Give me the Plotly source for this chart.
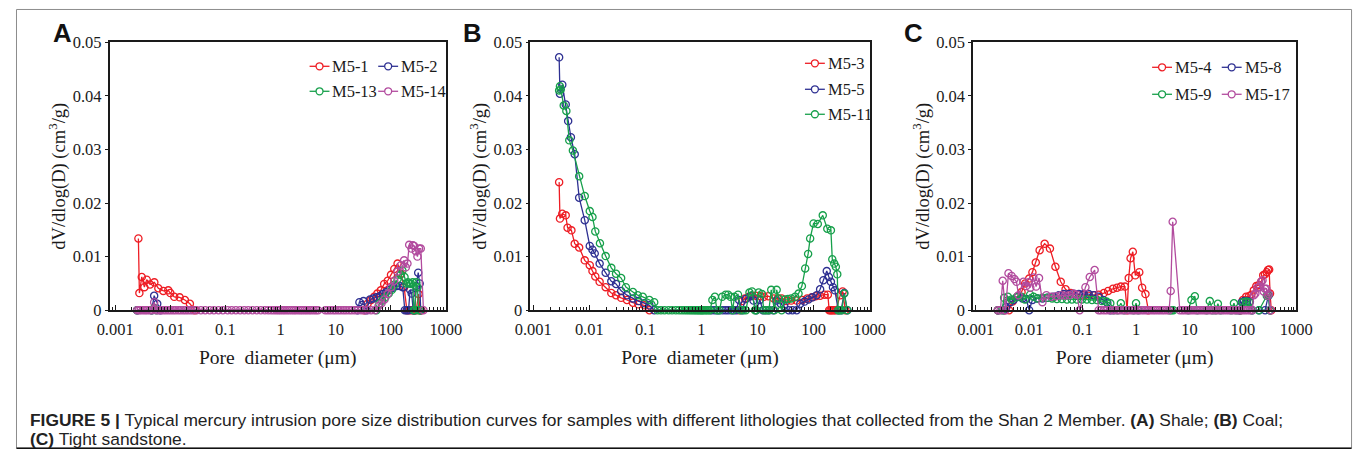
import plotly.graph_objects as go

# ---------------- data (pore diameter in µm, dV/dlog(D) in cm3/g) ----------------
# Panel A: shale
A_M5_1 = [(0.00264, 0.0134), (0.00275, 0.0032), (0.00304, 0.0062), (0.00339, 0.0043), (0.00374, 0.0057),
          (0.0043, 0.0048), (0.00514, 0.0052), (0.00607, 0.0041), (0.00747, 0.0036), (0.0092, 0.0037),
          (0.0100, 0.0032), (0.0118, 0.0025), (0.0148, 0.0024), (0.0184, 0.0019), (0.0227, 0.0012),
          (0.028, 0), (33, 0), (38, 0.0012), (44, 0.0019), (50, 0.0025), (57, 0.0031), (66, 0.0037),
          (76, 0.0049), (88, 0.0055), (101, 0.0066), (116, 0.0077), (133, 0.0087), (153, 0.0068),
          (175, 0.0043), (196, 0), (216, 0), (238, 0), (266, 0), (290, 0), (320, 0.0030), (340, 0), (360, 0)]
A_M5_2 = [(0.0025, 0), (0.0046, 0), (0.0051, 0.0027), (0.0058, 0.0012), (0.0066, 0), (25, 0), (27, 0.0015),
          (32, 0.0017), (36, 0), (42, 0.0020), (48, 0.0022), (55, 0.0024), (63, 0.0026), (72, 0.0030),
          (83, 0.0034), (95, 0.0038), (110, 0.0042), (127, 0.0045), (146, 0.0045), (165, 0.0043),
          (180, 0), (195, 0), (210, 0), (225, 0.0038), (240, 0.0031), (255, 0), (270, 0), (290, 0.0045),
          (315, 0.0070), (335, 0.0050), (350, 0)]
A_M5_13 = [(0.0025, 0), (0.0046, 0), (0.0051, 0.0004), (0.0056, 0), (55, 0), (62, 0.0012), (70, 0.0018),
           (80, 0.0024), (92, 0.0031), (105, 0.0038), (118, 0.0048), (133, 0.0058), (150, 0.0066),
           (163, 0.0074), (178, 0.0062), (192, 0.0050), (205, 0.0052), (220, 0.0050), (235, 0.0049),
           (250, 0.0052), (262, 0), (275, 0), (290, 0.0052), (305, 0.0043), (320, 0), (340, 0)]
A_M5_14 = [(0.0025, 0), (0.0027, 0), (0.0029, 0), (0.0032, 0), (0.0035, 0), (0.0038, 0), (0.0042, 0),
           (0.0046, 0), (0.0051, 0.0015), (0.0056, 0), (0.0062, 0), (0.0068, 0), (0.0075, 0), (0.0083, 0),
           (0.0092, 0), (0.0102, 0), (0.0113, 0), (0.0125, 0), (0.014, 0), (0.0155, 0), (0.0172, 0),
           (0.019, 0), (0.021, 0), (0.0235, 0), (0.026, 0), (0.030, 0), (0.036, 0), (0.043, 0), (0.052, 0),
           (0.062, 0), (0.075, 0), (0.090, 0), (0.11, 0), (0.13, 0), (0.155, 0), (0.185, 0), (0.22, 0),
           (0.26, 0), (0.31, 0), (0.37, 0), (0.44, 0), (0.52, 0), (0.60, 0), (0.68, 0), (0.76, 0),
           (0.84, 0), (0.92, 0), (1.0, 0), (1.1, 0), (1.2, 0), (1.32, 0), (1.45, 0), (1.6, 0), (1.75, 0),
           (1.9, 0), (2.1, 0), (2.3, 0), (2.5, 0), (2.75, 0), (3.0, 0), (3.3, 0), (3.6, 0), (4.0, 0),
           (4.4, 0), (4.8, 0), (6.5, 0), (7.2, 0), (8.0, 0), (9.0, 0), (10, 0), (11.2, 0), (12.5, 0),
           (14, 0), (15.5, 0), (17.5, 0), (19.5, 0), (22, 0), (25, 0), (29, 0), (33, 0), (38, 0), (44, 0),
           (52, 0), (60, 0.0008), (68, 0.0013), (77, 0.0020), (88, 0.0030), (101, 0.0043), (116, 0.0055),
           (133, 0.0072), (153, 0.0084), (175, 0.0093), (188, 0.0080), (201, 0.0087), (216, 0.0122),
           (238, 0.0115), (252, 0.0121), (266, 0.0120), (285, 0.0110), (305, 0.0100), (327, 0.0115),
           (351, 0.0115), (392, 0)]

# Panel B: coal
B_M5_3 = [(0.0029, 0.0239), (0.0030, 0.0171), (0.0033, 0.0180), (0.0038, 0.0177), (0.0041, 0.0154),
          (0.0048, 0.0149), (0.0055, 0.0124), (0.0066, 0.0117), (0.0083, 0.0093), (0.0102, 0.0084),
          (0.0114, 0.0073), (0.0128, 0.0063), (0.0153, 0.0053), (0.0196, 0.0043), (0.0247, 0.0032),
          (0.030, 0.0028), (0.037, 0.0023), (0.047, 0.0019), (0.060, 0.0014), (0.075, 0.0011),
          (0.096, 0.0009), (0.118, 0), (4.7, 0), (5.3, 0.0017), (6.0, 0.0022), (7.0, 0.0025), (8.0, 0.0027),
          (9.3, 0.0027), (11.3, 0.0026), (13, 0.0025), (15.6, 0.0026), (19.5, 0.0022), (23, 0.0022),
          (27, 0.0022), (33, 0.0017), (40, 0.0018), (50, 0.0018), (63, 0.0019), (77, 0.0022), (93, 0.0024),
          (109, 0.0026), (131, 0.0027), (157, 0.0029), (180, 0.0029), (190, 0), (200, 0), (210, 0),
          (222, 0), (235, 0), (250, 0), (300, 0.0028), (330, 0.0035), (370, 0)]
B_M5_5 = [(0.0029, 0.0472), (0.0030, 0.0404), (0.0033, 0.0421), (0.0038, 0.0384), (0.0042, 0.0353),
          (0.0047, 0.0323), (0.0055, 0.0291), (0.0066, 0.0210), (0.0083, 0.0168), (0.0102, 0.0120),
          (0.0114, 0.0113), (0.0125, 0.0106), (0.0153, 0.0087), (0.0196, 0.0070), (0.0247, 0.0054),
          (0.030, 0.0049), (0.037, 0.0036), (0.047, 0.0028), (0.060, 0.0022), (0.075, 0.0017),
          (0.096, 0.0013), (0.118, 0.0009), (0.144, 0), (1.5, 0), (1.7, 0), (1.9, 0), (2.1, 0), (2.4, 0),
          (2.7, 0), (3.0, 0), (3.4, 0), (3.8, 0), (4.2, 0), (4.7, 0.0019), (5.3, 0), (6.2, 0.0021),
          (7.5, 0.0026), (8.5, 0.0018), (9.5, 0), (11, 0.0019), (12.5, 0), (14, 0), (16, 0), (19, 0),
          (22, 0.0018), (26, 0.0012), (30, 0.0008), (36, 0), (42, 0), (50, 0), (58, 0.0012), (69, 0.0016),
          (81, 0.0020), (96, 0.0024), (114, 0.0028), (131, 0.0039), (150, 0.0056), (172, 0.0073),
          (188, 0.0062), (204, 0.0053), (222, 0.0043), (240, 0.0037), (276, 0), (310, 0), (353, 0.0032),
          (400, 0)]
B_M5_11 = [(0.0029, 0.0410), (0.0030, 0.0418), (0.0031, 0.0412), (0.0035, 0.0382), (0.0039, 0.0372),
           (0.0044, 0.0317), (0.0051, 0.0298), (0.0066, 0.0250), (0.0083, 0.0213), (0.0102, 0.0185),
           (0.0114, 0.0174), (0.0128, 0.0147), (0.0155, 0.0125), (0.0196, 0.0101), (0.0247, 0.0079),
           (0.030, 0.0068), (0.037, 0.0060), (0.045, 0.0043), (0.060, 0.0034), (0.073, 0.0028),
           (0.090, 0.0025), (0.118, 0.0019), (0.144, 0.0015), (0.165, 0), (0.19, 0), (0.22, 0), (0.26, 0),
           (0.30, 0), (0.35, 0), (0.40, 0), (0.45, 0), (0.50, 0), (0.55, 0), (0.60, 0), (0.65, 0), (0.70, 0),
           (0.75, 0), (0.80, 0), (0.85, 0), (0.90, 0), (0.95, 0), (1.0, 0), (1.05, 0), (1.1, 0), (1.18, 0),
           (1.25, 0), (1.33, 0), (1.42, 0), (1.57, 0.0019), (1.74, 0.0025), (1.9, 0), (2.1, 0),
           (2.35, 0.0025), (2.7, 0.0029), (3.0, 0.0029), (3.3, 0.0025), (3.6, 0), (3.9, 0.0025),
           (4.5, 0.0029), (5.0, 0), (5.6, 0), (6.2, 0), (7.2, 0.0033), (8.0, 0.0035), (9.0, 0), (9.5, 0),
           (10.5, 0.0033), (12, 0.0030), (13, 0), (14.5, 0), (16, 0), (17.6, 0.0038), (20, 0), (22, 0.0038),
           (24, 0.0022), (27, 0), (31, 0.0020), (35, 0.0021), (40, 0.0022), (47, 0.0025), (54, 0.0031),
           (62, 0.0045), (71, 0.0078), (80, 0.0105), (87, 0.0134), (100, 0.0162), (119, 0.0161),
           (146, 0.0177), (176, 0.0152), (204, 0.0149), (216, 0.0095), (234, 0.0087), (250, 0.0081),
           (265, 0.0067), (275, 0), (290, 0), (320, 0), (352, 0.0031), (400, 0)]

# Panel C: tight sandstone
C_M5_4 = [(0.0026, 0), (0.0035, 0), (0.0042, 0), (0.0049, 0.0016), (0.0060, 0.0025), (0.0072, 0.0034),
          (0.0084, 0.0050), (0.0100, 0.0059), (0.0115, 0.0071), (0.0133, 0.0089), (0.0157, 0.0112),
          (0.0195, 0.0124), (0.0245, 0.0115), (0.031, 0.0081), (0.039, 0.0053), (0.048, 0.0039),
          (0.060, 0.0032), (0.079, 0.0029), (0.100, 0.0028), (0.130, 0.0027), (0.165, 0.0028),
          (0.20, 0.0029), (0.25, 0.0032), (0.30, 0.0036), (0.37, 0.0040), (0.44, 0.0042), (0.52, 0.0044),
          (0.62, 0.0044), (0.68, 0), (0.73, 0.0060), (0.79, 0.0097), (0.87, 0.0109), (0.97, 0.0065),
          (1.15, 0.0071), (1.3, 0.0042), (1.5, 0.0030), (1.7, 0), (90, 0), (100, 0.0019), (115, 0.0025),
          (130, 0.0026), (144, 0.0029), (160, 0.0037), (178, 0.0045), (200, 0.0047), (220, 0.0053),
          (240, 0.0065), (259, 0.0067), (280, 0.0071), (295, 0.0075), (310, 0.0076), (322, 0.0031),
          (340, 0)]
C_M5_8 = [(0.0026, 0), (0.0033, 0), (0.0037, 0.0006), (0.0044, 0.0015), (0.0051, 0.0019), (0.0061, 0.0025),
          (0.0075, 0.0022), (0.0088, 0.0021), (0.0100, 0), (0.0115, 0.0019), (0.0143, 0.0022),
          (0.0177, 0.0022), (0.0219, 0.0023), (0.0283, 0.0025), (0.036, 0.0028), (0.0445, 0.0030),
          (0.055, 0.0030), (0.068, 0.0030), (0.085, 0.0030), (0.105, 0.0030), (0.13, 0.0030),
          (0.162, 0.0028), (0.20, 0.0025), (0.243, 0.0019), (0.29, 0.0014), (0.33, 0), (85, 0),
          (95, 0.0015), (105, 0.0017), (118, 0.0017), (135, 0.0016), (150, 0), (200, 0), (260, 0),
          (300, 0.0027), (320, 0)]
C_M5_9 = [(0.0026, 0), (0.0031, 0), (0.0034, 0.0023), (0.0040, 0.0025), (0.0047, 0.0020), (0.0058, 0.0024),
          (0.0072, 0.0025), (0.0083, 0.0020), (0.0104, 0.0029), (0.0121, 0.0025), (0.0143, 0.0022),
          (0.0177, 0.0023), (0.022, 0.0023), (0.027, 0.0022), (0.033, 0.0021), (0.041, 0.0021),
          (0.051, 0.0020), (0.063, 0.0020), (0.078, 0.0020), (0.097, 0.0020), (0.12, 0.0020),
          (0.15, 0.0019), (0.185, 0.0019), (0.23, 0.0017), (0.28, 0.0016), (0.33, 0.0013), (0.38, 0),
          (0.45, 0), (0.52, 0.0013), (0.60, 0), (0.9, 0), (1.0, 0.0013), (1.1, 0), (4.3, 0), (4.6, 0),
          (5.0, 0), (9.5, 0), (10.9, 0.0019), (12.6, 0.0026), (14, 0), (21, 0), (24, 0.0017), (27, 0),
          (31, 0), (34, 0.0012), (38, 0), (60, 0), (68, 0.0013), (75, 0), (90, 0), (100, 0.0015),
          (115, 0.0016), (130, 0.0015), (145, 0), (200, 0), (280, 0.0027), (300, 0.0028), (320, 0)]
C_M5_17 = [(0.0026, 0), (0.0029, 0), (0.0032, 0.0055), (0.0036, 0), (0.0041, 0.0069), (0.0047, 0.0064),
           (0.0053, 0.0058), (0.0058, 0.0053), (0.0063, 0.0028), (0.0078, 0.0053), (0.0088, 0.0045),
           (0.0098, 0.0052), (0.0105, 0.0042), (0.0120, 0.0061), (0.0135, 0.0044), (0.0153, 0.0060),
           (0.0177, 0.0015), (0.021, 0.0028), (0.026, 0.0025), (0.032, 0.0026), (0.039, 0.0028),
           (0.047, 0.0027), (0.056, 0.0028), (0.068, 0.0031), (0.078, 0.0029), (0.088, 0), (0.113, 0.0043),
           (0.136, 0.0062), (0.168, 0.0075), (0.20, 0), (0.22, 0), (0.25, 0), (0.28, 0), (0.32, 0),
           (0.36, 0), (0.40, 0), (0.45, 0), (0.50, 0), (0.56, 0), (0.62, 0), (0.70, 0), (0.78, 0),
           (0.86, 0), (0.95, 0), (1.05, 0), (1.15, 0), (1.27, 0), (1.40, 0), (1.55, 0), (1.70, 0),
           (1.90, 0), (2.10, 0), (2.30, 0), (2.55, 0), (2.80, 0), (3.10, 0), (3.40, 0), (3.80, 0),
           (4.15, 0), (4.45, 0.0036), (4.85, 0.0165), (6.6, 0), (7.3, 0), (8.1, 0), (9.0, 0), (10, 0),
           (11, 0), (12.2, 0), (13.5, 0), (15, 0), (16.5, 0), (18.3, 0), (20, 0), (22, 0), (24.5, 0),
           (27, 0), (30, 0), (33, 0), (37, 0), (41, 0), (45, 0), (50, 0), (55, 0), (61, 0), (67, 0),
           (74, 0), (82, 0), (90, 0), (100, 0), (110, 0), (122, 0), (135, 0), (150, 0), (160, 0.0028),
           (171, 0.0031), (185, 0.0042), (204, 0.0043), (220, 0.0053), (233, 0.0056), (245, 0.0035),
           (258, 0.0040), (275, 0.0040), (290, 0.0027), (305, 0.0030), (330, 0)]

X_TICKS = [0.001, 0.01, 0.1, 1, 10, 100, 1000]
X_TICK_TEXT = ["0.001", "0.01", "0.1", "1", "10", "100", "1000"]
Y_TICKS = [0, 0.01, 0.02, 0.03, 0.04, 0.05]
Y_TICK_TEXT = ["0", "0.01", "0.02", "0.03", "0.04", "0.05"]

RED, BLUE, GREEN, MAGENTA = "#ee1d24", "#2e3092", "#17a04b", "#b24b9e"

PANELS = [
    ("A", [("M5-1", A_M5_1, RED), ("M5-2", A_M5_2, BLUE), ("M5-13", A_M5_13, GREEN), ("M5-14", A_M5_14, MAGENTA)]),
    ("B", [("M5-3", B_M5_3, RED), ("M5-5", B_M5_5, BLUE), ("M5-11", B_M5_11, GREEN)]),
    ("C", [("M5-4", C_M5_4, RED), ("M5-8", C_M5_8, BLUE), ("M5-9", C_M5_9, GREEN), ("M5-17", C_M5_17, MAGENTA)]),
]

# ---------------- layout (target positions given in picture pixels) ----------------
# Calibration of the capture: picture = C + S * (figure_px + body margin)
FIG_W, FIG_H, BODY = 1380, 470, 8
SX, CX, SY, CY = 0.982, 2.0, 0.96, 1.0
FS = 1.03  # font/size compensation for the capture scale

SERIF = "Liberation Serif, Times New Roman, serif"
SANS = "Liberation Sans, Arial, sans-serif"
INK = "#1a1a1a"
PLOT_X = [(104, 442), (527, 868), (972, 1297)]
X_RANGES = [[-3.1, 3.0], [-3.05, 3.0], [-3.05, 3.0]]
PLOT_TOP, PLOT_BOTTOM = 42, 310
LETTER_POS = [(57, 33), (469, 33), (912, 33)]
LEGEND_POS = [
    [(305, 66), (374, 66), (305, 91), (374, 91)],
    [(803, 63), (803, 89), (803, 114)],
    [(1152, 67), (1222, 67), (1152, 94), (1222, 94)],
]


def fx(r):
    return (r - CX) / SX - BODY


def fy(r):
    return (r - CY) / SY - BODY


def px(r):
    return min(max(fx(r), 0.5), FIG_W - 0.5) / FIG_W


def py(r):
    return 1 - min(max(fy(r), 0.5), FIG_H - 0.5) / FIG_H


fig = go.Figure()
shapes, annotations = [], []

for i, (letter, series) in enumerate(PANELS):
    sfx = "" if i == 0 else str(i + 1)
    for name, pts, color in series:
        xs = [p[0] for p in pts]
        ys = [p[1] for p in pts]
        fig.add_trace(go.Scatter(
            x=xs, y=ys, name=name, mode="lines+markers", xaxis="x" + sfx, yaxis="y" + sfx,
            line=dict(color=color, width=1.3),
            marker=dict(symbol="circle-open", size=7.2, color=color, line=dict(width=1.3, color=color)),
            cliponaxis=False, showlegend=False))

    x0, x1 = PLOT_X[i]
    fig.layout["xaxis" + sfx] = dict(
        domain=[px(x0), px(x1)], type="log", range=X_RANGES[i], anchor="y" + sfx,
        tickmode="array", tickvals=X_TICKS, ticktext=X_TICK_TEXT,
        ticks="inside", ticklen=5, tickwidth=1.2, tickcolor=INK, ticklabelstandoff=3,
        minor=dict(ticks="inside", ticklen=3, tickwidth=1, tickcolor=INK, dtick="D1", showgrid=False),
        showline=True, linecolor=INK, linewidth=1.6, mirror=True, showgrid=False, zeroline=False,
        tickfont=dict(family=SERIF, size=16 * FS, color=INK),
        title=dict(text="Pore\u00a0 diameter (\u03bcm)", font=dict(family=SERIF, size=19 * FS, color=INK),
                   standoff=13))
    fig.layout["yaxis" + sfx] = dict(
        domain=[py(PLOT_BOTTOM), py(PLOT_TOP)], range=[0, 0.05], anchor="x" + sfx,
        tickmode="array", tickvals=Y_TICKS, ticktext=Y_TICK_TEXT,
        ticks="outside", ticklen=3, tickwidth=1.2, tickcolor=INK,
        showline=True, linecolor=INK, linewidth=1.6, mirror=True, showgrid=False, zeroline=False,
        tickfont=dict(family=SERIF, size=16 * FS, color=INK),
        title=dict(text="dV/dlog(D) (cm<sup>3</sup>/g)", font=dict(family=SERIF, size=18 * FS, color=INK),
                   standoff=2))

    lx, ly = LETTER_POS[i]
    annotations.append(dict(text="<b>%s</b>" % letter, x=px(lx), y=py(ly), xref="paper", yref="paper",
                            xanchor="center", yanchor="middle", showarrow=False,
                            font=dict(family=SANS, size=25 * FS, color="#111")))

    for (sx, sy), (name, pts, color) in zip(LEGEND_POS[i], series):
        shapes.append(dict(type="line", xref="paper", yref="paper", x0=px(sx), x1=px(sx + 20),
                           y0=py(sy), y1=py(sy), line=dict(color=color, width=1.3)))
        shapes.append(dict(type="circle", xref="paper", yref="paper", x0=px(sx + 6.5), x1=px(sx + 13.5),
                           y0=py(sy - 3.5), y1=py(sy + 3.5), line=dict(color=color, width=1.3),
                           fillcolor="white"))
        annotations.append(dict(text=name, x=px(sx + 21), y=py(sy), xref="paper", yref="paper",
                                xanchor="left", yanchor="middle", showarrow=False,
                                font=dict(family=SERIF, size=16 * FS, color=INK)))

# figure frame and caption
shapes.append(dict(type="rect", xref="paper", yref="paper", x0=px(7.5), x1=px(1352.5), y0=py(448), y1=py(6),
                   line=dict(color="#8c8c8c", width=1), layer="below"))
shapes.append(dict(type="line", xref="paper", yref="paper", x0=px(7.5), x1=px(1352.5), y0=py(448), y1=py(448),
                   line=dict(color="#111", width=1.5)))
CAPTION_LINES = [
    ("<b>FIGURE 5 |</b> Typical mercury intrusion pore size distribution curves for samples with different "
     "lithologies that collected from the Shan 2 Member. <b>(A)</b> Shale; <b>(B)</b> Coal;", 420),
    ("<b>(C)</b> Tight sandstone.", 439),
]
for text, ypos in CAPTION_LINES:
    annotations.append(dict(text=text, x=px(22), y=py(ypos), xref="paper", yref="paper", xanchor="left",
                            yanchor="middle", align="left", showarrow=False,
                            font=dict(family=SANS, size=17.4, color="#222")))

fig.update_layout(width=FIG_W, height=FIG_H, margin=dict(l=0, r=0, t=0, b=0), paper_bgcolor="white",
                  plot_bgcolor="white", showlegend=False, shapes=shapes, annotations=annotations)
fig.write_html("out.html")
